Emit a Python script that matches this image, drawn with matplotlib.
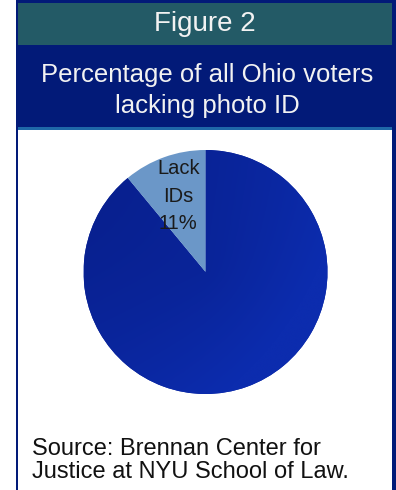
import numpy as np
import matplotlib
matplotlib.use("Agg")
import matplotlib.pyplot as plt
from matplotlib.patches import Rectangle

plt.rcParams["font.family"] = ["Liberation Sans", "DejaVu Sans"]

# --- data ---
figure_label = "Figure 2"
title_lines = ["Percentage of all Ohio voters", "lacking photo ID"]
shares = [11, 89]                  # % of Ohio voters
share_names = ["Lack\nIDs", ""]    # only the small slice is labelled
share_colors = ["#6b97c8", "#0a26a0"]
source_lines = ["Source: Brennan Center for", "Justice at NYU School of Law."]

W, H = 396, 490
fig = plt.figure(figsize=(W / 100, H / 100), dpi=100)
fig.patch.set_facecolor("white")


def box(x0, y0, x1, y1, color):
    # pixel rectangle, y measured from the top
    fig.patches.append(Rectangle((x0 / W, 1 - y1 / H), (x1 - x0) / W, (y1 - y0) / H,
                                 transform=fig.transFigure, facecolor=color,
                                 edgecolor="none", zorder=0))


# frame and header bands
box(16, 0, 396, 490, "#021a78")
box(18, 3, 392, 490, "white")
box(18, 3, 392, 45, "#235a66")
box(18, 45, 392, 128, "#021a78")
box(18, 127, 392, 130, "#1f68a8")

fig.text(205 / W, 1 - 24 / H, figure_label, ha="center", va="center",
         fontsize=20, color="#f2f2f2")
for i, line in enumerate(title_lines):
    fig.text(207 / W, 1 - (75 + 31 * i) / H, line, ha="center", va="center",
             fontsize=18.5, color="#f2f2f2")

# pie
cx, cy, r = 205.5, 272, 122
ax = fig.add_axes([(cx - r) / W, 1 - (cy + r) / H, 2 * r / W, 2 * r / H])
ax.set_zorder(5)
wedges, _ = ax.pie(shares, colors=share_colors, startangle=90, counterclock=True,
                   radius=1, wedgeprops=dict(linewidth=0))
ax.set_xlim(-1.0, 1.0)
ax.set_ylim(-1.0, 1.0)
ax.set_aspect("equal")
ax.axis("off")

# soft shading on the big slice
yy, xx = np.mgrid[-1:1:300j, -1:1:300j]
shade = np.clip(0.5 + 0.35 * xx - 0.25 * yy + 0.2 * np.hypot(xx, yy), 0, 1)
cmap = matplotlib.colors.LinearSegmentedColormap.from_list("s", ["#081f8c", "#0c2cae"])
im = ax.imshow(shade, cmap=cmap, extent=(-1, 1, -1, 1), origin="lower", zorder=1.5)
im.set_clip_path(wedges[1])
wedges[0].set_zorder(2)

# label of the small slice, placed at its mid-angle
w = wedges[0]
mid = np.deg2rad((w.theta1 + w.theta2) / 2)
ax.text(0.66 * np.cos(mid), 0.66 * np.sin(mid), f"{share_names[0]}\n{shares[0]}%",
        ha="center", va="center", fontsize=14.5, color="#1a1a1a",
        linespacing=1.55, zorder=3)

for i, line in enumerate(source_lines):
    fig.text(32 / W, 1 - (449 + 23 * i) / H, line, ha="left", va="center",
             fontsize=17, color="#111111")

fig.savefig("out.png", dpi=100)
